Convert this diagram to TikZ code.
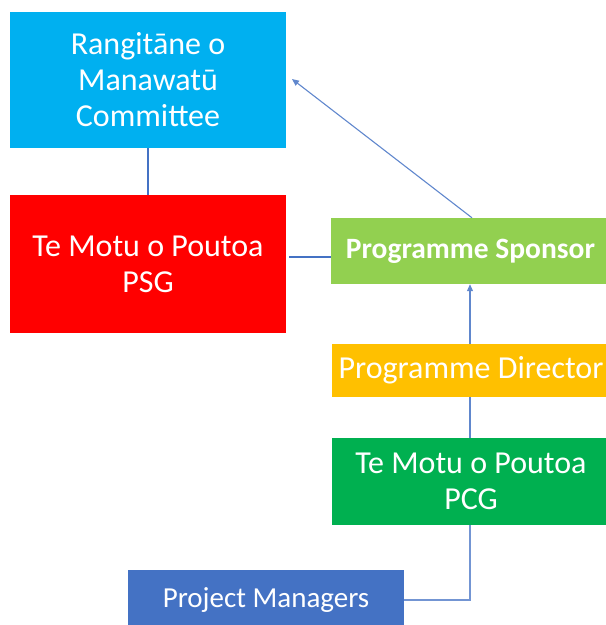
\documentclass[tikz,border=0pt]{standalone}
\usepackage{fontspec}
\setmainfont{Carlito}
\usetikzlibrary{arrows.meta}
\definecolor{cyanbox}{HTML}{00B0F0}
\definecolor{redbox}{HTML}{FF0000}
\definecolor{limebox}{HTML}{92D050}
\definecolor{amberbox}{HTML}{FFC000}
\definecolor{greenbox}{HTML}{00B050}
\definecolor{bluebox}{HTML}{4472C4}
\definecolor{linkblue}{HTML}{4472C4}
\tikzset{
  orgbox/.style={rectangle, inner sep=0pt, text=white, align=center,
    font=\fontsize{32}{36}\selectfont},
  link/.style={draw=linkblue, line width=1.8pt},
  thinlink/.style={draw=linkblue!85, line width=1.1pt},
  reports/.style={thinlink, -{Triangle[length=7pt,width=6pt]}}
}
\begin{document}
\begin{tikzpicture}[x=1pt,y=-1pt]
  \useasboundingbox (0,0) rectangle (606,625);
  % governance column
  \node[orgbox, fill=cyanbox, minimum width=276pt, minimum height=136pt]
    (comm) at (148,80) {Rangitāne o\\Manawatū\\Committee};
  \node[orgbox, fill=redbox, minimum width=276pt, minimum height=138pt]
    (psg) at (148,264) {Te Motu o Poutoa\\PSG};
  % programme column
  \node[orgbox, fill=limebox, minimum width=279pt, minimum height=66pt,
    font=\fontsize{29.5}{34}\selectfont\bfseries]
    (spons) at (470.5,251) {Programme Sponsor};
  \node[orgbox, fill=amberbox, minimum width=278pt, minimum height=53pt]
    (dir) at (471,370.5) {Programme Director};
  \node[orgbox, fill=greenbox, minimum width=278pt, minimum height=87pt]
    (pcg) at (471,481.5) {Te Motu o Poutoa\\PCG};
  \node[orgbox, fill=bluebox, minimum width=276pt, minimum height=60pt,
    font=\fontsize{29}{34}\selectfont]
    (pm) at (266,600) {Project Managers};
  % connector guides
  \coordinate (xcol) at (470,0);
  \coordinate (lk) at (310,257);
  \coordinate (ctip) at (292,79);
  % connectors
  \draw[link] (comm.south) -- (psg.north);
  \draw[link] ([xshift=3pt]psg.east |- lk) -- (spons.west |- lk);
  \draw[reports] ([xshift=1.5pt]spons.north) -- (ctip);
  \draw[reports] (dir.north -| xcol) -- (spons.south -| xcol);
  \draw[thinlink] (pcg.north -| xcol) -- (dir.south -| xcol);
  \draw[link, draw=linkblue!75] (pm.east) -- (pm.east -| xcol) -- (pcg.south -| xcol);
\end{tikzpicture}
\end{document}
